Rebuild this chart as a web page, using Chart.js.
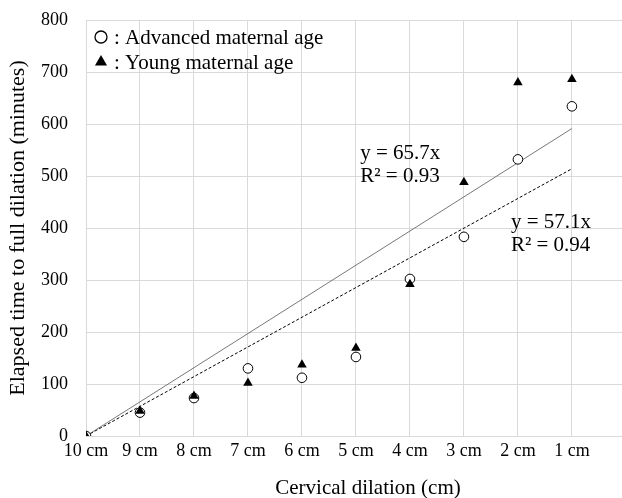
<!DOCTYPE html>
<html>
<head>
<meta charset="utf-8">
<script src="https://cdn.jsdelivr.net/npm/chart.js@4/dist/chart.umd.min.js"></script>
<style>
  html, body { margin: 0; padding: 0; background: #fff; overflow: hidden; }
  #contenedor { width: 629px; height: 498px; }
</style>
</head>
<body>
<div id="contenedor"><canvas id="grafica"></canvas></div>
<script>
// Datos de la grafica
var etiquetas = ['10 cm', '9 cm', '8 cm', '7 cm', '6 cm', '5 cm', '4 cm', '3 cm', '2 cm', '1 cm'];
var posiciones = [0, 1, 2, 3, 4, 5, 6, 7, 8, 9];
var edadAvanzada = [0, 45, 73, 130, 112, 152, 302, 383, 532, 634];
var edadJoven = [0, 48, 77, 102, 137, 169, 292, 488, 680, 686];
var pendienteJoven = 65.7, r2Joven = 0.93;
var pendienteAvanzada = 57.1, r2Avanzada = 0.94;

var fuente = '"Liberation Serif", "Times New Roman", serif';
var gris = '#d9d9d9';

function puntos(valores) {
  return posiciones.map(function(x, i) { return { x: x, y: valores[i] }; });
}
function tendencia(m) {
  var ult = posiciones[posiciones.length - 1];
  return [{ x: 0, y: 0 }, { x: ult, y: m * ult }];
}

// Leyenda dentro del area, ecuaciones y titulo del eje x
var textos = {
  id: 'textos',
  afterDatasetsDraw: function(chart) {
    var ctx = chart.ctx;
    var sx = chart.scales.x, sy = chart.scales.y;
    ctx.save();
    ctx.font = '21px ' + fuente;
    ctx.textBaseline = 'middle';
    ctx.textAlign = 'left';

    ctx.fillStyle = '#fff';
    ctx.strokeStyle = '#000';
    ctx.lineWidth = 1.3;
    Chart.helpers.drawPoint(ctx, { pointStyle: 'circle', radius: 6, borderWidth: 1.3, rotation: 0 }, 101, 37);
    ctx.fillStyle = '#000';
    Chart.helpers.drawPoint(ctx, { pointStyle: 'triangle', radius: 7, borderWidth: 0, rotation: 0 }, 101, 62);
    ctx.fillText(': Advanced maternal age', 114, 38);
    ctx.fillText(': Young maternal age', 114, 63);

    // ecuaciones
    var x1 = sx.getPixelForValue(5.08), y1 = sy.getPixelForValue(544);
    ctx.fillText('y = ' + pendienteJoven + 'x', x1, y1);
    ctx.fillText('R\u00b2 = ' + r2Joven, x1, y1 + 23);
    var x2 = sx.getPixelForValue(7.87), y2 = sy.getPixelForValue(410);
    ctx.fillText('y = ' + pendienteAvanzada + 'x', x2, y2);
    ctx.fillText('R\u00b2 = ' + r2Avanzada, x2, y2 + 23);

    // titulo eje x
    ctx.textAlign = 'center';
    ctx.fillText('Cervical dilation (cm)', 368, 488);
    ctx.restore();
  }
};

var ctx = document.getElementById('grafica').getContext('2d');
var miGrafica = new Chart(ctx, {
  type: 'scatter',
  data: {
    datasets: [
      {
        label: 'Young maternal age',
        data: puntos(edadJoven),
        pointStyle: 'triangle',
        pointRadius: 5.5,
        pointBackgroundColor: '#000',
        pointBorderColor: '#000',
        pointBorderWidth: 0,
        order: 1
      },
      {
        label: 'Advanced maternal age',
        data: puntos(edadAvanzada),
        pointStyle: 'circle',
        pointRadius: 4.8,
        pointBackgroundColor: '#fff',
        pointBorderColor: '#000',
        pointBorderWidth: 1,
        order: 2
      },
      {
        type: 'line',
        label: 'Tendencia joven',
        data: tendencia(pendienteJoven),
        borderColor: '#555',
        borderWidth: 0.8,
        pointRadius: 0,
        fill: false,
        order: 3
      },
      {
        type: 'line',
        label: 'Tendencia avanzada',
        data: tendencia(pendienteAvanzada),
        borderColor: '#000',
        borderWidth: 1,
        borderDash: [3, 2],
        pointRadius: 0,
        fill: false,
        order: 3
      }
    ]
  },
  options: {
    responsive: true,
    maintainAspectRatio: false,
    animation: false,
    layout: { padding: { top: 20, right: 0, bottom: 0, left: 0 } },
    plugins: {
      legend: { display: false },
      tooltip: { enabled: false }
    },
    scales: {
      x: {
        type: 'linear',
        min: 0,
        max: 9.95,
        afterBuildTicks: function(s) {
          s.ticks = posiciones.map(function(v) { return { value: v }; });
        },
        afterFit: function(s) {
          s.height = 62;
          s.paddingLeft = 0;
          s.paddingRight = 0;
        },
        ticks: {
          callback: function(v) { return etiquetas[v]; },
          font: { family: fuente, size: 18 },
          color: '#000',
          maxRotation: 0,
          autoSkip: false,
          padding: 4
        },
        grid: { color: gris, drawTicks: false },
        border: { color: gris }
      },
      y: {
        min: 0,
        max: 800,
        afterFit: function(s) {
          s.width = 86;
          s.paddingTop = 0;
          s.paddingBottom = 0;
        },
        ticks: {
          stepSize: 100,
          font: { family: fuente, size: 18 },
          color: '#000',
          padding: 18
        },
        grid: { color: gris, drawTicks: false },
        border: { color: gris },
        title: {
          display: true,
          text: 'Elapsed time to full dilation (minutes)',
          font: { family: fuente, size: 22 },
          color: '#000',
          padding: { top: 5, bottom: 0 }
        }
      }
    }
  },
  plugins: [textos]
});
</script>
</body>
</html>
